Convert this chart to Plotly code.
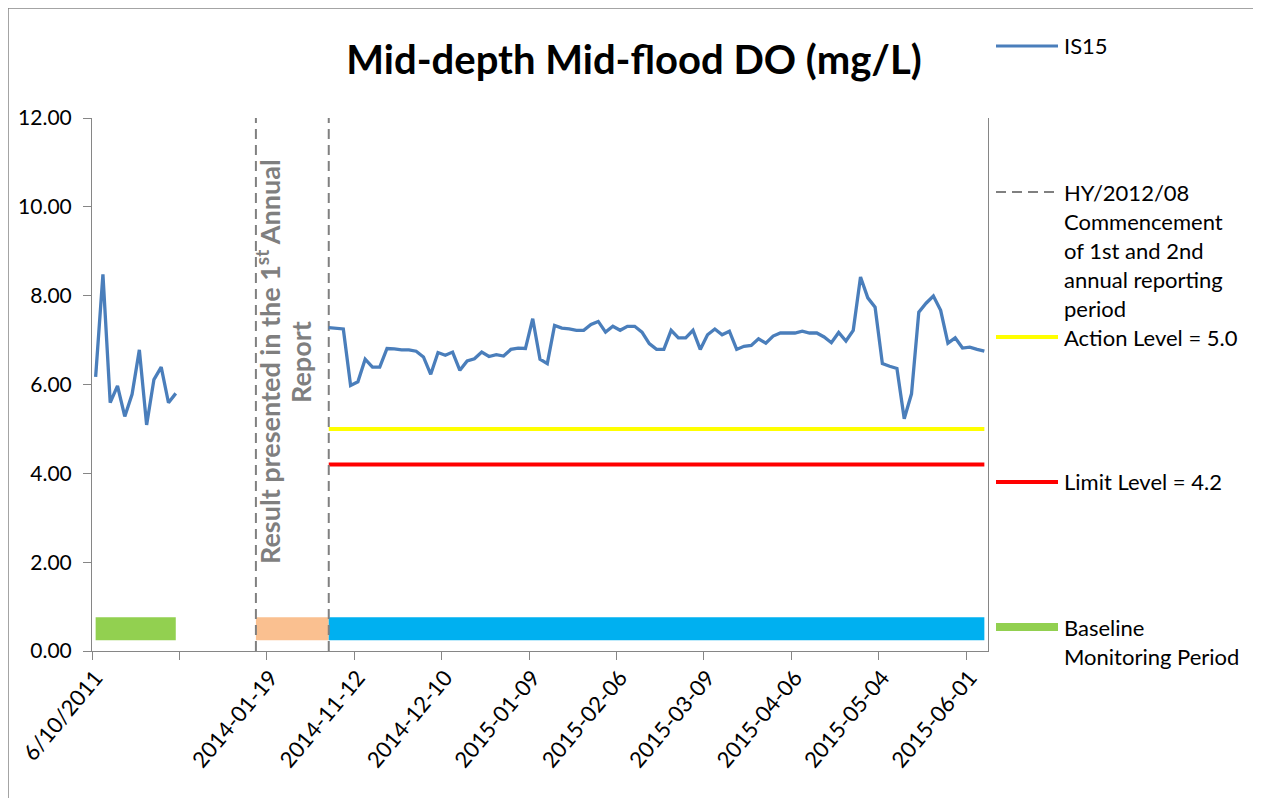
import plotly.graph_objects as go

# Excel-style category axis: one slot per sampling date, 123 slots in total
n_slots = 123

# Baseline monitoring (slots 0-11)
baseline_idx = list(range(0, 12))
baseline_do = [6.17, 8.48, 5.59, 5.97, 5.28, 5.78, 6.78, 5.09, 6.11, 6.39, 5.59, 5.80]

# Impact monitoring IS15 (slots 32-122)
impact_idx = list(range(32, 123))
impact_do = [7.28, 7.27, 7.25, 5.98, 6.06, 6.57, 6.39, 6.39, 6.81, 6.80,
             6.78, 6.78, 6.75, 6.62, 6.23, 6.72, 6.66, 6.73, 6.32, 6.53,
             6.58, 6.73, 6.63, 6.67, 6.64, 6.79, 6.82, 6.81, 7.48, 6.57,
             6.47, 7.33, 7.27, 7.25, 7.22, 7.22, 7.35, 7.42, 7.18, 7.31,
             7.22, 7.31, 7.31, 7.18, 6.92, 6.79, 6.79, 7.22, 7.05, 7.05,
             7.22, 6.79, 7.12, 7.25, 7.12, 7.20, 6.79, 6.86, 6.88, 7.03,
             6.93, 7.09, 7.16, 7.16, 7.16, 7.20, 7.16, 7.16, 7.07, 6.94,
             7.17, 6.98, 7.22, 8.42, 7.95, 7.74, 6.47, 6.41, 6.36, 5.23,
             5.79, 7.63, 7.83, 7.99, 7.67, 6.93, 7.05, 6.82, 6.84, 6.79,
             6.75]

# period bars along the bottom
baseline_period = [0, 11]
first_report_period = [22, 32]
current_period = [32, 122]
period_bar_y = 0.5

# dashed markers: start of 1st annual report results, commencement of HY/2012/08
marker_idx = [22, 32]
marker_top = 12

action_level = 5.0
limit_level = 4.2

# labelled slots (slot 12 has a tick mark but no label)
tick_idx = [0, 24, 36, 48, 60, 72, 84, 96, 108, 120]
tick_text = ["6/10/2011", "2014-01-19", "2014-11-12", "2014-12-10", "2015-01-09",
             "2015-02-06", "2015-03-09", "2015-04-06", "2015-05-04", "2015-06-01"]
tick_mark_every = 12

C_SERIES = "#4A7EBB"
C_DASH = "#808080"
C_ACTION = "#FFFF00"
C_LIMIT = "#FF0000"
C_BASE = "#92D050"
C_REPORT = "#FAC090"
C_CURRENT = "#00B0F0"
FONT = "Lato, 'Open Sans', sans-serif"

# page has an 8px body margin, so the figure itself starts at (8, 8)
OFF = 8
W, H = 1261 - OFF, 798 - OFF
PX0, PX1, PY0, PY1 = 92 - OFF, 988 - OFF, 118 - OFF, 651 - OFF


def xp(px):
    # reference-screen px -> paper x
    return (px - OFF - PX0) / (PX1 - PX0)


def yp(py):
    # reference-screen px -> paper y
    return (PY1 - (py - OFF)) / (PY1 - PY0)


fig = go.Figure()

# period bars
for per, col in [(baseline_period, C_BASE), (first_report_period, C_REPORT), (current_period, C_CURRENT)]:
    fig.add_trace(go.Scatter(x=per, y=[period_bar_y] * len(per), mode="lines",
                             line=dict(color=col, width=23), hoverinfo="skip"))

# action / limit levels over the current period
fig.add_trace(go.Scatter(x=current_period, y=[action_level] * 2, mode="lines",
                         line=dict(color=C_ACTION, width=4), name="Action Level = 5.0"))
fig.add_trace(go.Scatter(x=current_period, y=[limit_level] * 2, mode="lines",
                         line=dict(color=C_LIMIT, width=4), name="Limit Level = 4.2"))

# dashed vertical markers
for xi in marker_idx:
    fig.add_trace(go.Scatter(x=[xi, xi], y=[0, marker_top], mode="lines",
                             line=dict(color=C_DASH, width=2, dash="10px,6px"), hoverinfo="skip"))

# IS15 series
fig.add_trace(go.Scatter(x=baseline_idx, y=baseline_do, mode="lines",
                         line=dict(color=C_SERIES, width=3.3), name="IS15"))
fig.add_trace(go.Scatter(x=impact_idx, y=impact_do, mode="lines",
                         line=dict(color=C_SERIES, width=3.3), name="IS15"))

# custom legend (Excel spacing)
legend_items = [
    (46, C_SERIES, 3, "solid", ["IS15"]),
    (192, C_DASH, 2, "10px,6px", ["HY/2012/08", "Commencement", "of 1st and 2nd",
                                  "annual reporting", "period"]),
    (337, C_ACTION, 4, "solid", ["Action Level = 5.0"]),
    (482, C_LIMIT, 4, "solid", ["Limit Level = 4.2"]),
    (627, C_BASE, 8, "solid", ["Baseline", "Monitoring Period"]),
]
shapes = []
annotations = []
for y0, col, w, dash, lines in legend_items:
    shapes.append(dict(type="line", xref="paper", yref="paper",
                       x0=xp(996), x1=xp(1058), y0=yp(y0), y1=yp(y0),
                       line=dict(color=col, width=w, dash=dash)))
    for i, t in enumerate(lines):
        annotations.append(dict(xref="paper", yref="paper", x=xp(1062), y=yp(y0 + 29 * i),
                                text=t, showarrow=False, xanchor="left", yanchor="middle",
                                font=dict(family=FONT, size=22, color="#000000")))

# rotated note over the 1st annual report period (two lines, Excel line spacing)
note_lines = [(268, "Result presented in the 1<sup>st</sup> Annual"), (300, "Report")]
for x0, t in note_lines:
    annotations.append(dict(xref="paper", yref="paper", x=xp(x0), y=yp(362),
                            xanchor="center", yanchor="middle",
                            text=t, textangle=-90, showarrow=False,
                            font=dict(family=FONT, size=27, color="#7F7F7F", weight="bold")))

# outer chart border
shapes.append(dict(type="rect", xref="paper", yref="paper",
                   x0=xp(8), x1=xp(1258), y0=yp(803), y1=yp(8),
                   line=dict(color="#868686", width=1.5), layer="below"))

fig.update_layout(
    width=W, height=H,
    margin=dict(l=PX0, r=W - PX1, t=PY0, b=H - PY1),
    paper_bgcolor="white", plot_bgcolor="white",
    showlegend=False,
    title=dict(text="<b>Mid-depth Mid-flood DO (mg/L)</b>", x=(634 - OFF) / W, xanchor="center",
               y=1 - (60 - OFF) / H, yanchor="middle",
               font=dict(family=FONT, size=40, color="#000000")),
    shapes=shapes,
    annotations=annotations,
)

fig.update_xaxes(
    range=[-0.5, n_slots - 0.5], showgrid=False, zeroline=False, automargin=False,
    showline=True, linecolor="#868686", linewidth=1,
    tickmode="array", tickvals=tick_idx, ticktext=tick_text, ticks="",
    tickangle=-50, ticklabelstandoff=4,
    tickfont=dict(family=FONT, size=22, color="#000000"),
    minor=dict(tick0=-0.5, dtick=tick_mark_every, ticks="outside", ticklen=8, tickcolor="#868686"),
)
fig.update_yaxes(
    range=[0, 12], dtick=2, tickformat=".2f", showgrid=False, zeroline=False, automargin=False,
    showline=True, linecolor="#868686", linewidth=1, mirror=True,
    ticks="outside", ticklen=8, tickcolor="#868686", ticklabelstandoff=7,
    tickfont=dict(family=FONT, size=21, color="#000000"),
)

fig.write_html("out.html")
